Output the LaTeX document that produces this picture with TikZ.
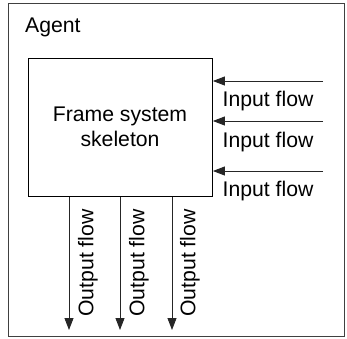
\documentclass[tikz,border=0pt]{standalone}
\usepackage{fontspec}
\setmainfont{Liberation Sans}
\usetikzlibrary{arrows.meta}
\begin{document}
\begin{tikzpicture}[x=1pt,y=-1pt,
  txt/.style={font=\fontsize{21.2}{24}\selectfont, inner sep=0pt},
  flow/.style={-{Triangle[length=12pt,width=9pt]}, line width=0.9pt, draw=black!85}
]
\useasboundingbox (0,0) rectangle (347,338);
\draw[line width=0.9pt, draw=black!75] (8,3) rectangle (344,336);
\node[txt, anchor=west] (agent) at (25,27) {Agent};
\node[draw, line width=0.9pt, minimum width=184pt, minimum height=138pt, anchor=north west, inner sep=0pt] (fs) at (28,58) {};
\node[txt, align=center] (fst) at (120,127) {Frame system\\[1pt]skeleton};
% inputs
\coordinate (i1) at (323,81);
\coordinate (i2) at (323,121);
\coordinate (i3) at (323,171);
\draw[flow] (i1) -- (fs.east |- i1);
\draw[flow] (i2) -- (fs.east |- i2);
\draw[flow] (i3) -- (fs.east |- i3);
\node[txt] (l1) at (268,101) {Input flow};
\node[txt] (l2) at (268,142) {Input flow};
\node[txt] (l3) at (268,191) {Input flow};
% outputs
\coordinate (o1) at (69,330);
\coordinate (o2) at (120,330);
\coordinate (o3) at (172,330);
\draw[flow] (fs.south -| o1) -- (o1);
\draw[flow] (fs.south -| o2) -- (o2);
\draw[flow] (fs.south -| o3) -- (o3);
\node[txt, rotate=90] (m1) at (88,263) {Output flow};
\node[txt, rotate=90] (m2) at (139,263) {Output flow};
\node[txt, rotate=90] (m3) at (190,263) {Output flow};
\end{tikzpicture}
\end{document}
